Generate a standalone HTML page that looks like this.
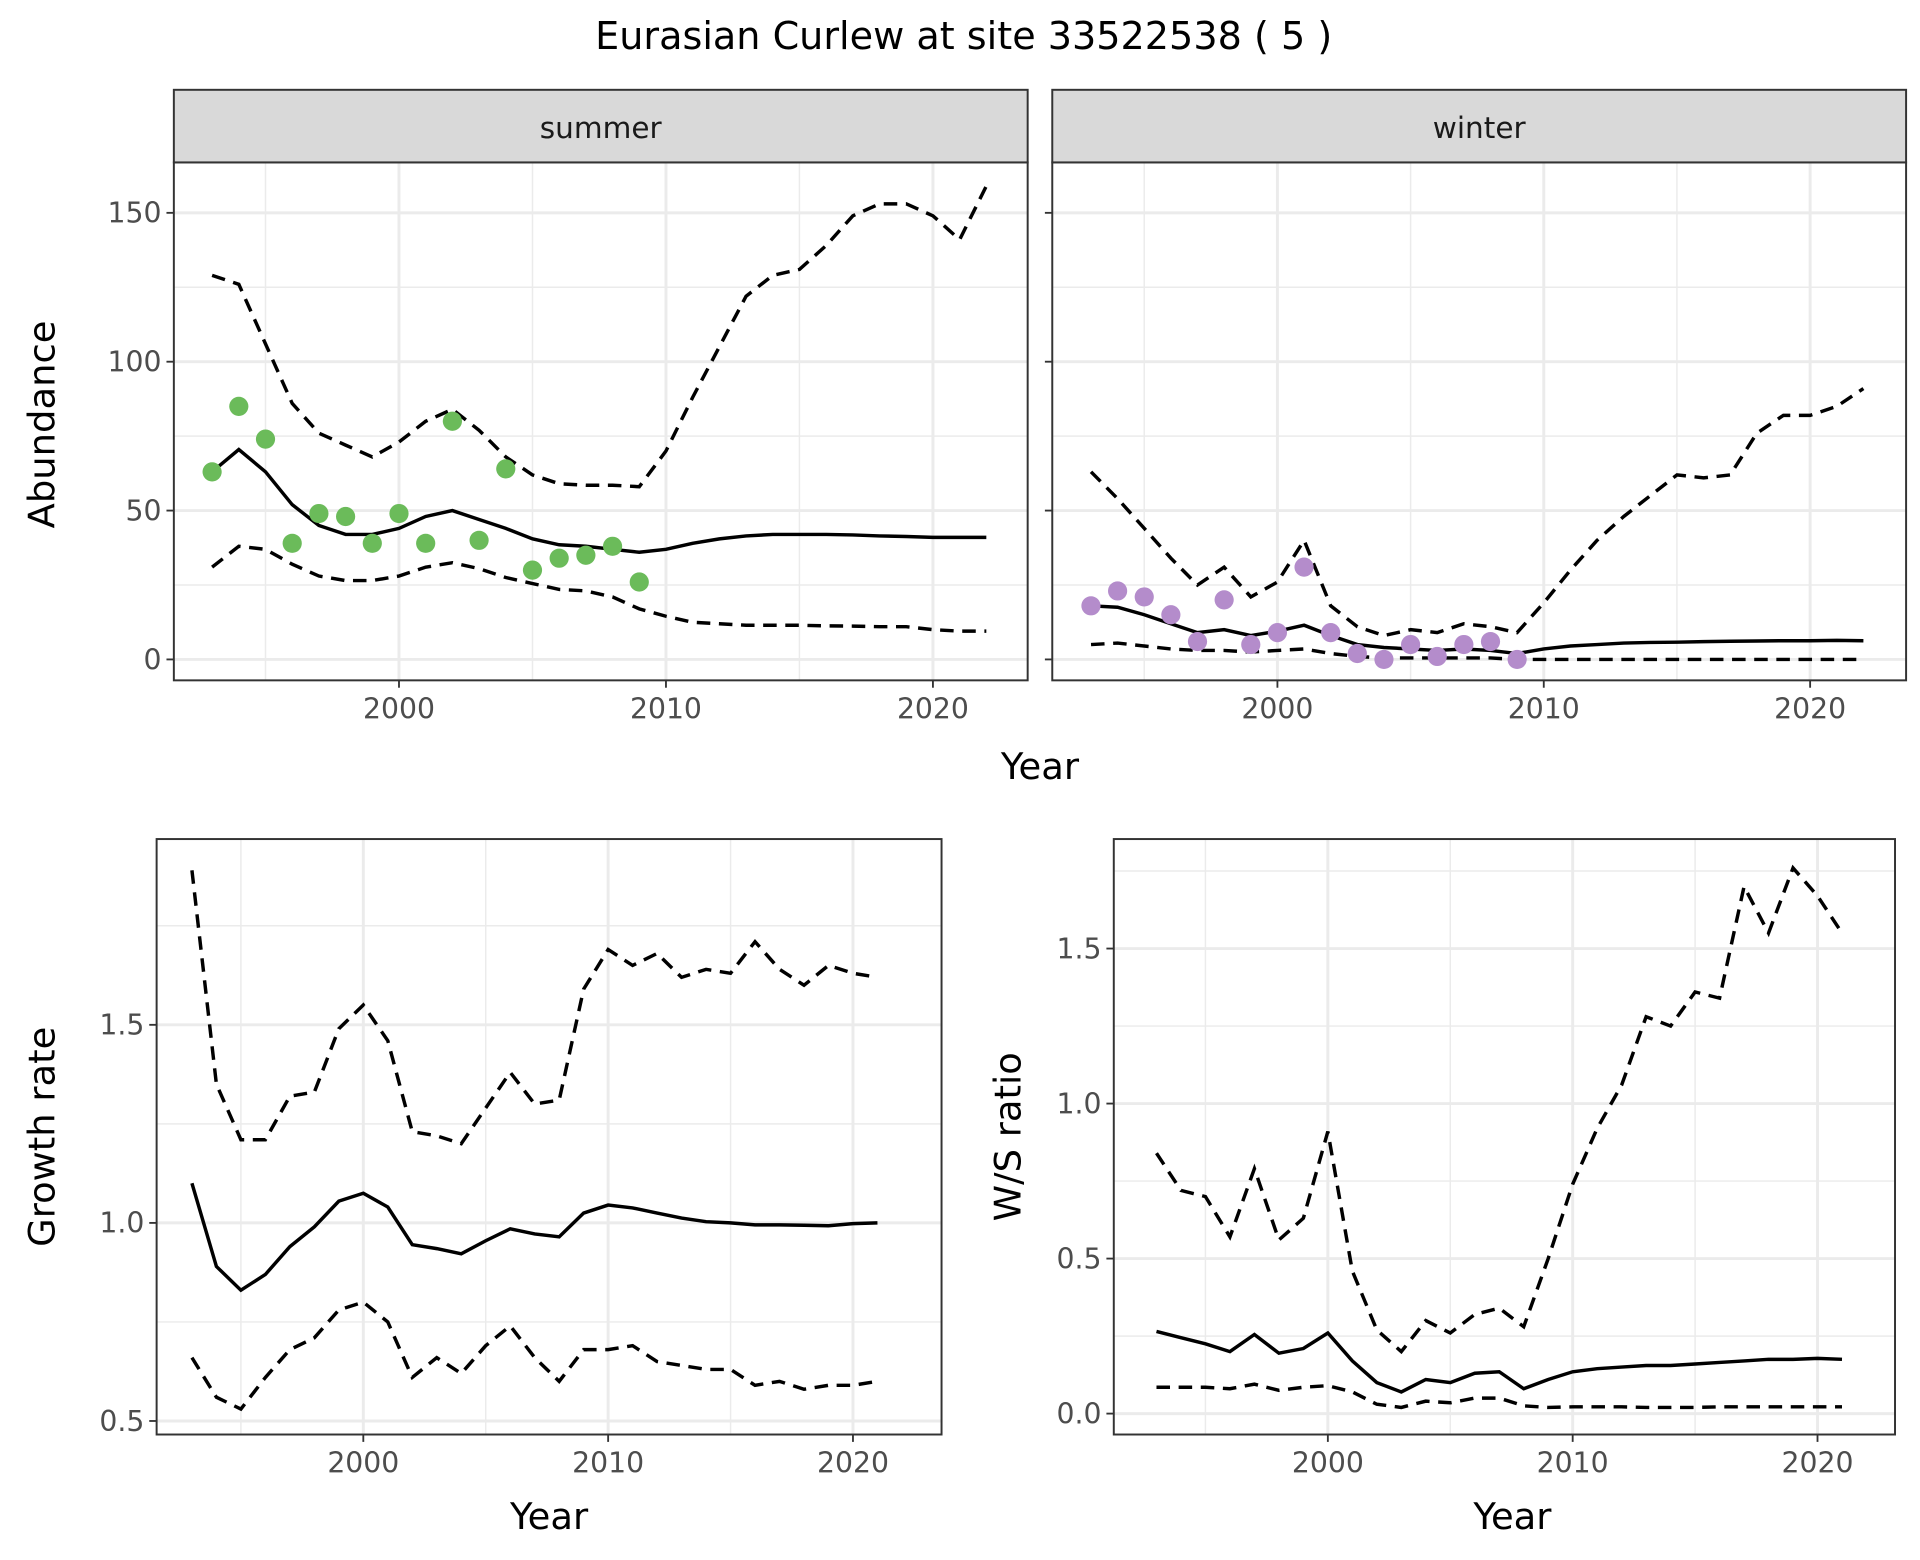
<!DOCTYPE html>
<html><head><meta charset="utf-8"><style>
html,body{margin:0;padding:0;background:#fff}
svg{display:block;font-family:"DejaVu Sans","Liberation Sans",sans-serif}
</style></head><body>
<svg id="chart" width="1920" height="1560" viewBox="0 0 1560 1268" xmlns="http://www.w3.org/2000/svg">
<rect width="1560" height="1268" fill="#fff"/>
<text x="783" y="40" font-size="31" text-anchor="middle" fill="#000">Eurasian Curlew at site 33522538 ( 5 )</text>
<text x="845" y="633" font-size="30" text-anchor="middle">Year</text>
<text transform="translate(44,345) rotate(-90)" font-size="30" text-anchor="middle">Abundance</text>
<text x="446" y="1243" font-size="30" text-anchor="middle">Year</text>
<text transform="translate(44,924) rotate(-90)" font-size="30" text-anchor="middle">Growth rate</text>
<text x="1229" y="1243" font-size="30" text-anchor="middle">Year</text>
<text transform="translate(829,924) rotate(-90)" font-size="30" text-anchor="middle">W/S ratio</text>
</svg>
<script>
const yearsA = [1993,1994,1995,1996,1997,1998,1999,2000,2001,2002,2003,2004,2005,2006,2007,2008,2009,2010,2011,2012,2013,2014,2015,2016,2017,2018,2019,2020,2021,2022];
const summerMean = [63,70.5,63,52,45,42,42,44,48,50,47,44,40.5,38.5,38,37,36,37,39,40.5,41.5,42,42,42,41.8,41.5,41.3,41,41,41];
const summerUpper = [129,126,106,86,76,72,68,73,80,84,77,68,62,59,58.5,58.5,58,70,88,105,122,129,131,139,149,153,153,149,141,159];
const summerLower = [31,38,37,32,28,26.5,26.5,28,31,32.5,30.5,27.5,25.5,23.5,23,21,17,14.5,12.5,12,11.5,11.5,11.5,11.3,11.2,11,11,10,9.5,9.5];
const obsYears = [1993,1994,1995,1996,1997,1998,1999,2000,2001,2002,2003,2004,2005,2006,2007,2008,2009];
const summerObs = [63,85,74,39,49,48,39,49,39,80,40,64,30,34,35,38,26];
const winterMean = [18,17.5,15,12,9,10,8,9.5,11.5,8,5,4,3.5,3,3.5,3,2,3.5,4.5,5,5.5,5.7,5.8,6,6.1,6.2,6.3,6.3,6.4,6.3];
const winterUpper = [63,54,44,34,25,31,21,26,40,18,11,8,10,9,12,11,9,19,30,40,48,55,62,61,62,76,82,82,85,91];
const winterLower = [5,5.5,4.5,3.5,3,3,2.5,3,3.5,2,1,0.5,0.5,0.5,0.5,0.5,0,0,0,0,0,0,0,0,0,0,0,0,0,0];
const winterObs = [18,23,21,15,6,20,5,9,31,9,2,0,5,1,5,6,0];
const yearsB = [1993,1994,1995,1996,1997,1998,1999,2000,2001,2002,2003,2004,2005,2006,2007,2008,2009,2010,2011,2012,2013,2014,2015,2016,2017,2018,2019,2020,2021];
const growthMean = [1.10,0.89,0.83,0.87,0.94,0.99,1.055,1.075,1.04,0.945,0.935,0.922,0.955,0.985,0.972,0.965,1.025,1.045,1.038,1.025,1.012,1.003,1.0,0.995,0.995,0.994,0.993,0.998,1.0];
const growthUpper = [1.89,1.35,1.21,1.21,1.32,1.33,1.49,1.55,1.46,1.23,1.22,1.20,1.29,1.38,1.30,1.31,1.59,1.69,1.65,1.68,1.62,1.64,1.63,1.71,1.64,1.60,1.65,1.63,1.62];
const growthLower = [0.66,0.56,0.53,0.61,0.68,0.71,0.78,0.80,0.75,0.61,0.66,0.62,0.69,0.74,0.66,0.60,0.68,0.68,0.69,0.65,0.64,0.63,0.63,0.59,0.60,0.58,0.59,0.59,0.60];
const ratioMean = [0.265,0.245,0.225,0.20,0.255,0.195,0.21,0.26,0.17,0.10,0.07,0.11,0.10,0.13,0.135,0.08,0.11,0.135,0.145,0.15,0.155,0.155,0.16,0.165,0.17,0.175,0.175,0.178,0.175];
const ratioUpper = [0.84,0.72,0.70,0.57,0.79,0.56,0.63,0.91,0.46,0.27,0.20,0.30,0.26,0.32,0.34,0.28,0.50,0.74,0.92,1.06,1.28,1.25,1.36,1.34,1.70,1.55,1.76,1.67,1.55];
const ratioLower = [0.085,0.085,0.085,0.08,0.095,0.075,0.085,0.09,0.07,0.03,0.02,0.04,0.035,0.05,0.05,0.025,0.02,0.022,0.022,0.022,0.02,0.02,0.02,0.022,0.022,0.022,0.022,0.022,0.022];
const xTicks = [2000,2010,2020];
const abundTicks = [0,50,100,150];
const growthTicks = [0.5,1.0,1.5];
const ratioTicks = [0.0,0.5,1.0,1.5];

const svg = document.getElementById('chart');
const NS = 'http://www.w3.org/2000/svg';
function mk(tag, attrs, parent) {
  const e = document.createElementNS(NS, tag);
  for (const k in attrs) e.setAttribute(k, attrs[k]);
  (parent || svg).appendChild(e);
  return e;
}
function panel(p) {
  const g = mk('g', {});
  
  
  const sx = y => p.x2000 + (y - 2000) * p.pxYear;
  const sy = v => p.y0 - (v - p.v0) * p.pxUnit;
  mk('rect', {x:p.l, y:p.t, width:p.r-p.l, height:p.b-p.t, fill:'#fff'}, g);
  for (let yr = 1995; yr <= 2025; yr += 10) { const X = sx(yr); if (X > p.l && X < p.r) mk('line', {x1:X, x2:X, y1:p.t, y2:p.b, stroke:'#ebebeb', 'stroke-width':1.2}, g); }
  const step = p.ticks[1] - p.ticks[0];
  for (let i = -1; i < p.ticks.length + 1; i++) { const v = p.ticks[0] + step * (i + 0.5); const Y = sy(v); if (Y > p.t && Y < p.b) mk('line', {x1:p.l, x2:p.r, y1:Y, y2:Y, stroke:'#ebebeb', 'stroke-width':1.2}, g); }
  xTicks.forEach(yr => { const X = sx(yr);
    mk('line', {x1:X, x2:X, y1:p.t, y2:p.b, stroke:'#ebebeb', 'stroke-width':2.4}, g);
    mk('line', {x1:X, x2:X, y1:p.b, y2:p.b + 6, stroke:'#333', 'stroke-width':1.5}, g);
    if (p.xlabels) { const t = mk('text', {x:X, y:p.b + 31, 'font-size':23, 'text-anchor':'middle', fill:'#4d4d4d'}, g); t.textContent = yr;
      
       }
  });
  p.ticks.forEach(v => { const Y = sy(v);
    mk('line', {x1:p.l, x2:p.r, y1:Y, y2:Y, stroke:'#ebebeb', 'stroke-width':2.4}, g);
    mk('line', {x1:p.l - 6, x2:p.l, y1:Y, y2:Y, stroke:'#333', 'stroke-width':1.5}, g);
    if (p.ylabels) { const t = mk('text', {x:p.l - 10, y:Y + 8, 'font-size':23, 'text-anchor':'end', fill:'#4d4d4d'}, g); t.textContent = p.fmt(v);
      
       }
  });
  const line = (ys, vs, dash, nm) => {
    const d = ys.map((yr, i) => (i ? 'L' : 'M') + sx(yr).toFixed(1) + ' ' + sy(vs[i]).toFixed(1)).join(' ');
    const e = mk('path', {d:d, fill:'none', stroke:'#000', 'stroke-width':2.8, 'stroke-dasharray':dash ? '11 7' : 'none'}, g);
    
    
  };
  line(p.years, p.upper, true, 'upper-ci-line');
  line(p.years, p.lower, true, 'lower-ci-line');
  line(p.years, p.mean, false, 'mean-line');
  if (p.obs) p.obs.forEach((v, i) => {
    const c = mk('circle', {cx:sx(obsYears[i]), cy:sy(v), r:7.8, fill:p.col}, g);
    
    
  });
  mk('rect', {x:p.l, y:p.t, width:p.r-p.l, height:p.b-p.t, fill:'none', stroke:'#333', 'stroke-width':1.6}, g);
  if (p.strip) {
    const s = mk('rect', {x:p.l, y:73, width:p.r-p.l, height:p.t-73, fill:'#d9d9d9', stroke:'#333', 'stroke-width':1.6}, g);
    
    
    const t = mk('text', {x:(p.l+p.r)/2, y:112, 'font-size':24, 'text-anchor':'middle', fill:'#1a1a1a'}, g);
    t.textContent = p.strip;
    
    
  }
}
const fmtInt = v => String(v);
const fmt1 = v => v.toFixed(1);
panel({name:'summer-panel', l:141, r:835, t:132, b:553, x2000:324, pxYear:21.7, y0:536, v0:0, pxUnit:2.42, ticks:abundTicks, fmt:fmtInt, xlabels:true, ylabels:true, years:yearsA, mean:summerMean, upper:summerUpper, lower:summerLower, obs:summerObs, col:'#6bbb5a', strip:'summer'});
panel({name:'winter-panel', l:855, r:1549, t:132, b:553, x2000:1038, pxYear:21.65, y0:536, v0:0, pxUnit:2.42, ticks:abundTicks, fmt:fmtInt, xlabels:true, ylabels:false, years:yearsA, mean:winterMean, upper:winterUpper, lower:winterLower, obs:winterObs, col:'#b48ccb', strip:'winter'});
panel({name:'growth-panel', l:127, r:765, t:682, b:1166, x2000:295, pxYear:19.9, y0:1155, v0:0.5, pxUnit:322, ticks:growthTicks, fmt:fmt1, xlabels:true, ylabels:true, years:yearsB, mean:growthMean, upper:growthUpper, lower:growthLower});
panel({name:'ratio-panel', l:905, r:1540, t:682, b:1166, x2000:1079, pxYear:19.9, y0:1149, v0:0, pxUnit:252, ticks:ratioTicks, fmt:fmt1, xlabels:true, ylabels:true, years:yearsB, mean:ratioMean, upper:ratioUpper, lower:ratioLower});
</script>
</body></html>
